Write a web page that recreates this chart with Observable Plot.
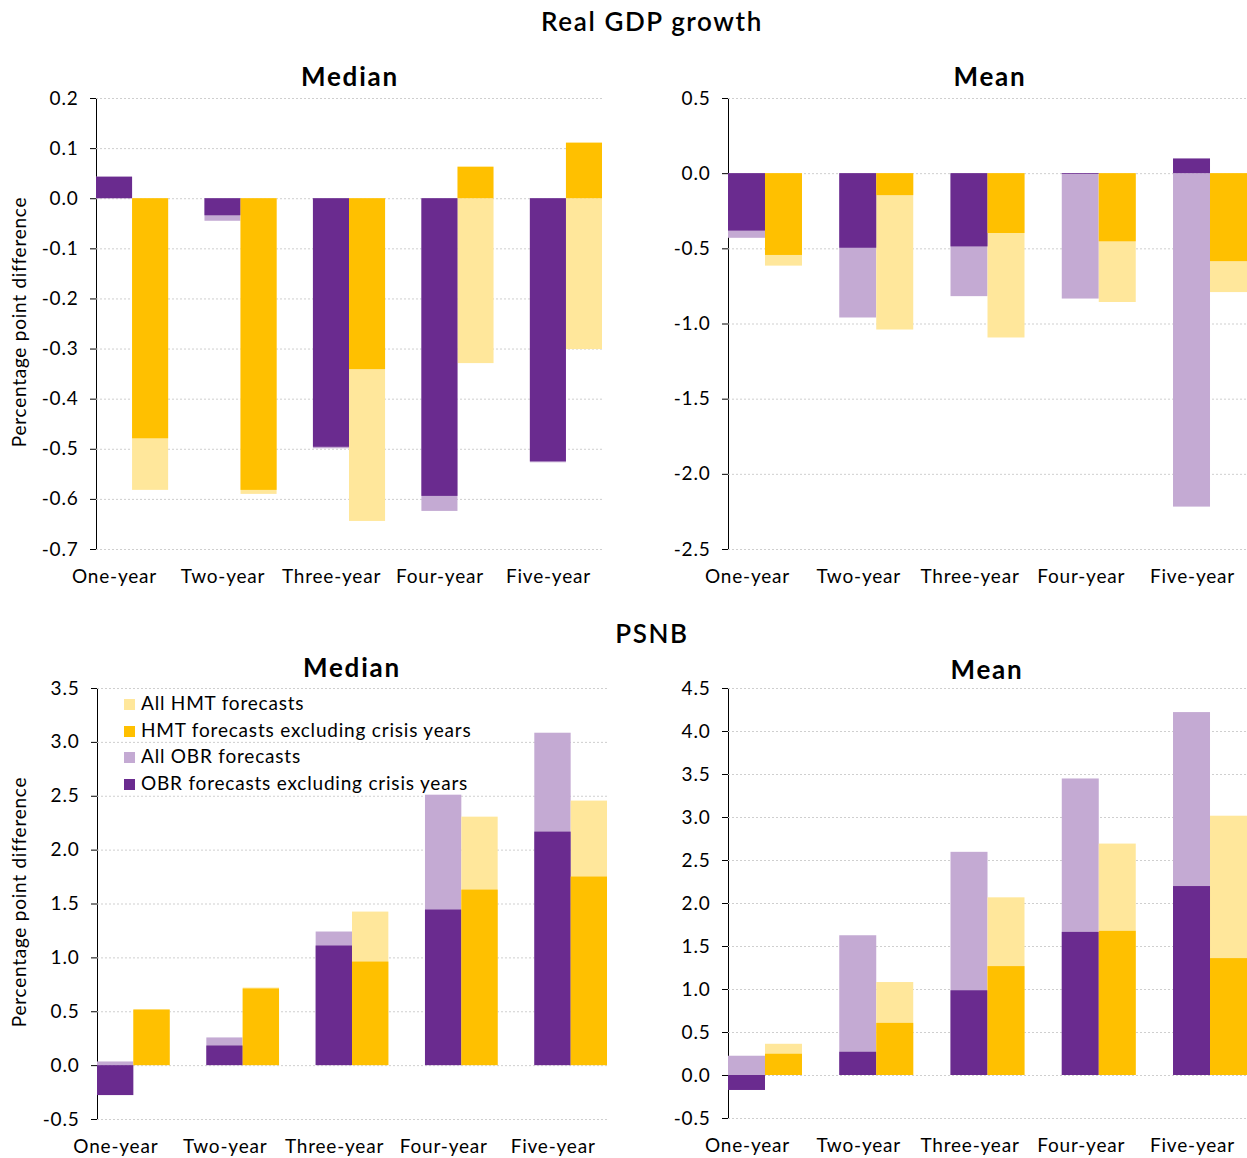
<!DOCTYPE html>
<html>
<head>
<meta charset="utf-8">
<script src="https://cdn.jsdelivr.net/npm/d3@7"></script>
<script src="https://cdn.jsdelivr.net/npm/@observablehq/plot@0.6"></script>
<style>
body { margin: 0; background: #fff; }
#page { position: relative; width: 1247px; height: 1158px; overflow: hidden; font-family: Lato, "Noto Sans", sans-serif; color: #000; }
.abs { position: absolute; }
.section { font-size: 26px; font-weight: 600; letter-spacing: 1.6px; text-align: center; width: 400px; margin-left: -200px; }
.sub { font-size: 26px; font-weight: 700; letter-spacing: 1.8px; text-align: center; width: 200px; margin-left: -100px; }
.ylab { font-size: 19px; letter-spacing: 0.75px; white-space: nowrap; transform: translate(-50%, -50%) rotate(-90deg); }
.legend { font-size: 19px; letter-spacing: 0.8px; line-height: 26.5px; }
.legend .sw { display: inline-block; width: 11px; height: 11px; margin-right: 6px; vertical-align: 0px; }
</style>
</head>
<body>
<div id="page"></div>
<script>
const horizons = ["One-year", "Two-year", "Three-year", "Four-year", "Five-year"];

// Real GDP growth, median
const gdpMedianObrAll  = [0.043, -0.045, -0.499, -0.624, -0.527];
const gdpMedianObrExcl = [0.043, -0.034, -0.496, -0.594, -0.525];
const gdpMedianHmtAll  = [-0.582, -0.590, -0.644, -0.329, -0.301];
const gdpMedianHmtExcl = [-0.479, -0.582, -0.341, 0.063, 0.111];
const gdpMedianTicks = [0.2, 0.1, 0, -0.1, -0.2, -0.3, -0.4, -0.5, -0.6, -0.7];

// Real GDP growth, mean
const gdpMeanObrAll  = [-0.430, -0.960, -0.818, -0.834, -2.218];
const gdpMeanObrExcl = [-0.382, -0.496, -0.487, -0.005, 0.098];
const gdpMeanHmtAll  = [-0.615, -1.040, -1.093, -0.857, -0.791];
const gdpMeanHmtExcl = [-0.544, -0.146, -0.398, -0.453, -0.585];
const gdpMeanTicks = [0.5, 0, -0.5, -1.0, -1.5, -2.0, -2.5];

// PSNB, median
const psnbMedianObrAll  = [0.034, 0.257, 1.240, 2.510, 3.085];
const psnbMedianObrExcl = [-0.278, 0.182, 1.110, 1.444, 2.167];
const psnbMedianHmtAll  = [0.516, 0.720, 1.425, 2.306, 2.455];
const psnbMedianHmtExcl = [0.516, 0.711, 0.961, 1.629, 1.750];
const psnbMedianTicks = [3.5, 3.0, 2.5, 2.0, 1.5, 1.0, 0.5, 0, -0.5];

// PSNB, mean
const psnbMeanObrAll  = [0.224, 1.625, 2.595, 3.448, 4.220];
const psnbMeanObrExcl = [-0.174, 0.270, 0.985, 1.664, 2.197];
const psnbMeanHmtAll  = [0.363, 1.081, 2.066, 2.691, 3.015];
const psnbMeanHmtExcl = [0.247, 0.606, 1.266, 1.676, 1.359];
const psnbMeanTicks = [4.5, 4.0, 3.5, 3.0, 2.5, 2.0, 1.5, 1.0, 0.5, 0, -0.5];

const darkPurple = "#6a2b8f";
const lightPurple = "#c4aad3";
const darkYellow = "#ffc000";
const lightYellow = "#ffe79b";
const fontFamily = 'Lato, "Noto Sans", sans-serif';
const pad = 0.335;

const page = document.getElementById("page");

function addDiv(cls, left, top, html) {
    const d = document.createElement("div");
    d.className = "abs " + cls;
    d.style.left = left + "px";
    d.style.top = top + "px";
    d.innerHTML = html;
    page.appendChild(d);
    return d;
}

function drawPanel(cfg) {
    const innerW = cfg.width - cfg.marginLeft - cfg.marginRight;
    // half of a category's bar group, so OBR sits left and HMT right
    const half = innerW / (horizons.length - pad) * (1 - pad) / 2;
    const rows = values => horizons.map((h, i) => ({horizon: h, value: values[i]}));

    const chart = Plot.plot({
        width: cfg.width,
        height: cfg.height,
        marginLeft: cfg.marginLeft,
        marginRight: cfg.marginRight,
        marginTop: cfg.marginTop,
        marginBottom: cfg.marginBottom,
        style: {fontFamily: fontFamily, fontSize: "19px", letterSpacing: "0.8px", color: "#000", background: "transparent", overflow: "visible"},
        x: {domain: horizons, paddingInner: pad, paddingOuter: 0, round: false},
        y: {
            domain: cfg.domain,
            ticks: cfg.ticks,
            tickSize: 6,
            tickPadding: 12,
            tickFormat: d => d.toFixed(1),
            line: true,
            label: null
        },
        marks: [
            Plot.ruleY(cfg.ticks, {stroke: "#cfcfcf", strokeDasharray: "2,2"}),
            Plot.barY(rows(cfg.obrAll), {x: "horizon", y: "value", fill: lightPurple, insetRight: half}),
            Plot.barY(rows(cfg.hmtAll), {x: "horizon", y: "value", fill: lightYellow, insetLeft: half}),
            Plot.barY(rows(cfg.obrExcl), {x: "horizon", y: "value", fill: darkPurple, insetRight: half}),
            Plot.barY(rows(cfg.hmtExcl), {x: "horizon", y: "value", fill: darkYellow, insetLeft: half}),
            Plot.axisX({tickSize: 0, tickPadding: 20, dx: -18, label: null})
        ]
    });
    chart.style.position = "absolute";
    chart.style.left = cfg.left + "px";
    chart.style.top = cfg.top + "px";
    page.appendChild(chart);
}

addDiv("section", 652, 5, "Real GDP growth");
addDiv("section", 652, 617, "PSNB");
addDiv("sub", 350, 60, "Median");
addDiv("sub", 990, 60, "Mean");
addDiv("sub", 352, 651, "Median");
addDiv("sub", 987, 653, "Mean");
addDiv("ylab", 18, 322, "Percentage point difference");
addDiv("ylab", 18, 902, "Percentage point difference");

drawPanel({
    left: 0, top: 88, width: 620, height: 512,
    marginLeft: 96, marginRight: 18, marginTop: 10, marginBottom: 51,
    domain: [-0.7, 0.2], ticks: gdpMedianTicks,
    obrAll: gdpMedianObrAll, obrExcl: gdpMedianObrExcl,
    hmtAll: gdpMedianHmtAll, hmtExcl: gdpMedianHmtExcl
});

drawPanel({
    left: 620, top: 88, width: 627, height: 512,
    marginLeft: 108, marginRight: 0, marginTop: 10, marginBottom: 51,
    domain: [-2.5, 0.5], ticks: gdpMeanTicks,
    obrAll: gdpMeanObrAll, obrExcl: gdpMeanObrExcl,
    hmtAll: gdpMeanHmtAll, hmtExcl: gdpMeanHmtExcl
});

drawPanel({
    left: 0, top: 678, width: 620, height: 480,
    marginLeft: 97, marginRight: 13, marginTop: 10, marginBottom: 39,
    domain: [-0.5, 3.5], ticks: psnbMedianTicks,
    obrAll: psnbMedianObrAll, obrExcl: psnbMedianObrExcl,
    hmtAll: psnbMedianHmtAll, hmtExcl: psnbMedianHmtExcl
});

drawPanel({
    left: 620, top: 678, width: 627, height: 480,
    marginLeft: 108, marginRight: 0, marginTop: 10, marginBottom: 40,
    domain: [-0.5, 4.5], ticks: psnbMeanTicks,
    obrAll: psnbMeanObrAll, obrExcl: psnbMeanObrExcl,
    hmtAll: psnbMeanHmtAll, hmtExcl: psnbMeanHmtExcl
});

const legendItems = [
    ["All HMT forecasts", lightYellow],
    ["HMT forecasts excluding crisis years", darkYellow],
    ["All OBR forecasts", lightPurple],
    ["OBR forecasts excluding crisis years", darkPurple]
];
addDiv("legend", 124, 690, legendItems.map(([label, color]) =>
    `<div><span class="sw" style="background:${color}"></span>${label}</div>`).join(""));
</script>
</body>
</html>
